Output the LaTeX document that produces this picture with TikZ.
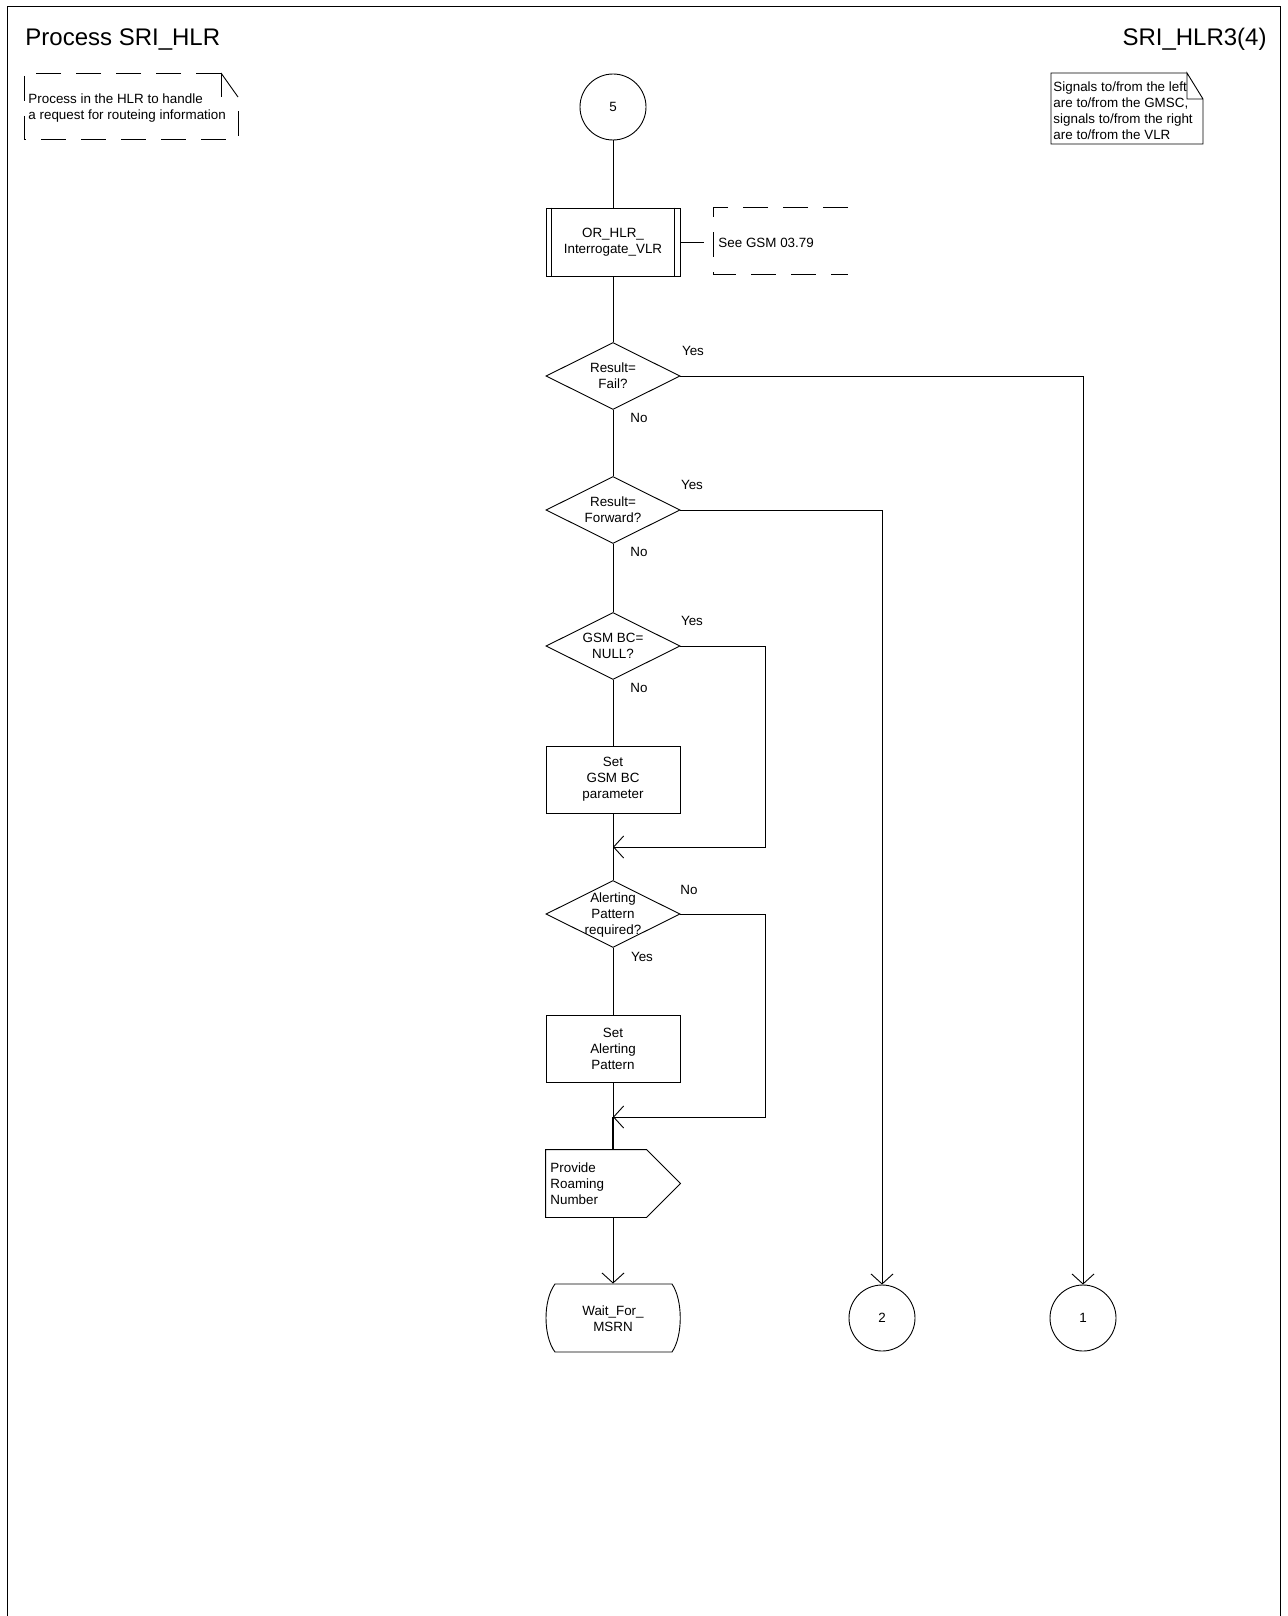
\documentclass[tikz,border=0pt]{standalone}
\usepackage{fontspec}
\setmainfont{Liberation Sans}
\usetikzlibrary{shapes.geometric, arrows.meta, calc}
\begin{document}
\begin{tikzpicture}[x=0.5pt, y=-0.5pt, line width=0.45pt,
  txt/.style={font=\fontsize{6.7}{8}\selectfont, inner sep=0pt, align=center},
  big/.style={font=\fontsize{12}{14}\selectfont, inner sep=0pt},
  taskbox/.style={draw, rectangle, minimum width=67pt, minimum height=33.5pt, inner sep=0pt, align=center, font=\fontsize{6.7}{8}\selectfont},
  dec/.style={draw, diamond, minimum width=67pt, minimum height=33.5pt, inner sep=0pt},
  conn/.style={draw, circle, minimum size=33pt, inner sep=0pt, font=\fontsize{6.7}{8}\selectfont},
  ghost/.style={minimum width=67pt, minimum height=33.5pt, inner sep=0pt},
  arr/.style={-{Straight Barb[length=5pt,width=11pt]}},
  dsh/.style={dash pattern=on 12.5pt off 7.5pt}]
\useasboundingbox (0,0) rectangle (1287,1616);

% frame
\draw (7,1616) -- (7,6) -- (1280,6) -- (1280,1616);
\node[big, anchor=base west] (title) at (25,46) {Process SRI\_HLR};
\node[big, anchor=base east] (page) at (1267,46) {SRI\_HLR3(4)};

% top-left comment
\draw[dsh] (221,73) -- (24,73) -- (24,139) -- (238,139) -- (238,97);
\draw (221,73) -- (221,97);
\draw (221,73) -- (238,97);
\node[txt, anchor=west, align=left] (ctext) at (28,108) {Process in the HLR to handle\\a request for routeing information};

% top-right note
\draw (1187,73) -- (1051,73) -- (1051,144) -- (1203,144) -- (1203,99) -- (1187,73) -- (1187,99) -- (1203,99);
\node[txt, anchor=west, align=left] (note) at (1053,111) {Signals to/from the left\\are to/from the GMSC,\\signals to/from the right\\are to/from the VLR};

% main flow
\node[conn] (c5) at (613,107) {5};
\node[taskbox, minimum height=34pt] (proc) at (613,242) {OR\_HLR\_\\Interrogate\_VLR};
\draw ([xshift=3pt]proc.north west) -- ([xshift=3pt]proc.south west);
\draw ([xshift=-3pt]proc.north east) -- ([xshift=-3pt]proc.south east);

\coordinate (cm) at (704,242);
\draw (proc.east) -- (cm);
\draw[dsh] (848,207) -- (713,207) -- (713,274) -- (848,274);
\node[txt, anchor=west] (cmt) at (718,243) {See GSM 03.79};

\node[dec] (d1) at (613,376) {};
\node[txt] (d1t) at (d1) {Result=\\Fail?};
\node[txt] (y1) at (693,351) {Yes};
\node[txt] (n1) at (639,418) {No};

\node[dec] (d2) at (613,510) {};
\node[txt] (d2t) at (d2) {Result=\\Forward?};
\node[txt] (y2) at (692,485) {Yes};
\node[txt] (n2) at (639,552) {No};

\node[dec] (d3) at (613,646) {};
\node[txt] (d3t) at (d3) {GSM BC=\\NULL?};
\node[txt] (y3) at (692,621) {Yes};
\node[txt] (n3) at (639,688) {No};

\node[taskbox] (b1) at (613,779.5) {Set\\GSM BC\\parameter};
\coordinate (m1) at (613,847);

\node[dec] (d4) at (613,914) {};
\node[txt] (d4t) at (613,915) {Alerting\\Pattern\\required?};
\node[txt] (n4) at (689,890) {No};
\node[txt] (y4) at (642,957) {Yes};

\node[taskbox] (b2) at (613,1049) {Set\\Alerting\\Pattern};
\coordinate (m2) at (613,1117);

\node[ghost] (sig) at (613,1183.5) {};
\draw (sig.north west) -- ++(101,0) -- (sig.east) -- ($(sig.south west)+(101,0)$) -- (sig.south west) -- cycle;
\node[txt, anchor=west, align=left] (sigt) at (550,1184) {Provide\\Roaming\\Number};

\node[ghost, minimum height=34pt] (st) at (613,1318) {};
\draw (555,1284) -- (672,1284) .. controls (683,1300) and (683,1336) .. (672,1352) -- (555,1352) .. controls (543,1336) and (543,1300) .. (555,1284) -- cycle;
\node[txt] (stt) at (613,1319) {Wait\_For\_\\MSRN};

\node[conn] (c2) at (882,1318) {2};
\node[conn] (c1) at (1083,1318) {1};

% connectors
\draw (c5) -- (proc);
\draw (proc) -- (d1);
\draw (d1) -- (d2);
\draw (d2) -- (d3);
\draw (d3) -- (b1);
\draw (b1) -- (d4);
\draw[arr] (d3.east) -- ++(85,0) |- (m1);
\draw (d4) -- (b2);
\draw (b2) -- (m2);
\draw[arr] (d4.east) -- ++(85,0) |- (m2);
\draw[line width=1pt] (m2) -- (sig.north);
\draw[arr] (sig.south) -- (st.north);
\draw[arr] (d1.east) -| (c1.north);
\draw[arr] (d2.east) -| (c2.north);
\end{tikzpicture}
\end{document}
